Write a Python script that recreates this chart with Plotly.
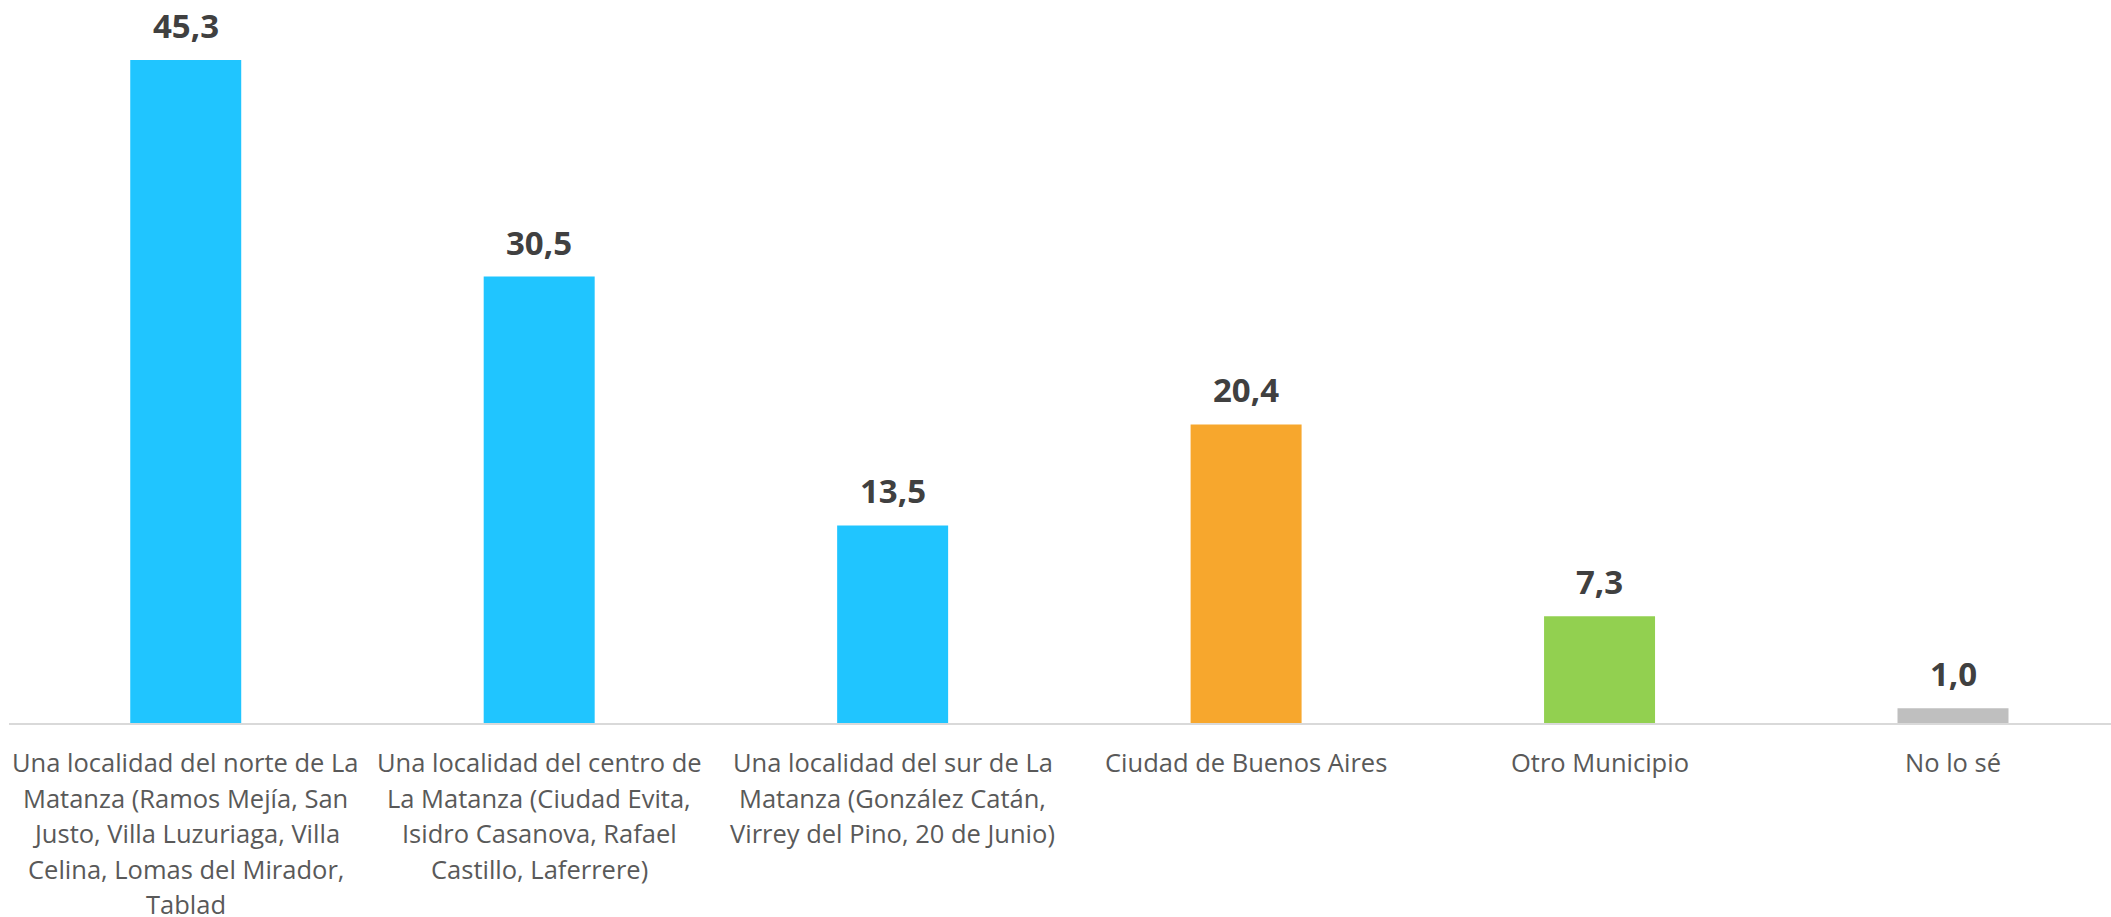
import plotly.graph_objects as go

categories = [
    "Una localidad del norte de La Matanza (Ramos Mejía, San Justo, Villa Luzuriaga, Villa Celina, Lomas del Mirador, Tablad",
    "Una localidad del centro de La Matanza (Ciudad Evita, Isidro Casanova, Rafael Castillo, Laferrere)",
    "Una localidad del sur de La Matanza (González Catán, Virrey del Pino, 20 de Junio)",
    "Ciudad de Buenos Aires",
    "Otro Municipio",
    "No lo sé",
]
# wrapped label lines, as in the original chart
label_lines = [
    ["Una localidad del norte de La", "Matanza (Ramos Mejía, San", "Justo, Villa Luzuriaga, Villa",
     "Celina, Lomas del Mirador,", "Tablad"],
    ["Una localidad del centro de", "La Matanza (Ciudad Evita,", "Isidro Casanova, Rafael",
     "Castillo, Laferrere)"],
    ["Una localidad del sur de La", "Matanza (González Catán,", "Virrey del Pino, 20 de Junio)"],
    ["Ciudad de Buenos Aires"],
    ["Otro Municipio"],
    ["No lo sé"],
]
values = [45.3, 30.5, 13.5, 20.4, 7.3, 1.0]
colors = ["#20C5FF", "#20C5FF", "#20C5FF", "#F7A72D", "#92D050", "#BFBFBF"]

x_idx = list(range(len(categories)))

fig = go.Figure()
fig.add_trace(go.Bar(
    x=x_idx,
    y=values,
    marker=dict(color=colors, line=dict(width=0)),
    hovertext=categories,
    showlegend=False,
))

# value labels
for i, v in zip(x_idx, values):
    fig.add_annotation(
        x=i, y=v, xref="x", yref="y",
        text="<b>" + f"{v:.1f}".replace(".", ",") + "</b>",
        showarrow=False,
        yanchor="bottom",
        yshift=10,
        font=dict(family="Open Sans", size=33, color="#404040"),
    )

# category labels (one annotation per wrapped line for exact line spacing)
first_offset = 39
line_step = 35.6
for i, lines in zip(x_idx, label_lines):
    for k, line in enumerate(lines):
        fig.add_annotation(
            x=i, y=0, xref="x", yref="paper",
            text=line,
            showarrow=False,
            yanchor="middle",
            yshift=-(first_offset + k * line_step),
            borderpad=0,
            font=dict(family="Open Sans", size=25.5, color="#595959"),
        )

fig.update_layout(
    width=2111, height=917,
    margin=dict(l=9, r=0, t=0, b=194),
    paper_bgcolor="white",
    plot_bgcolor="white",
    bargap=0.686,
    font=dict(family="Open Sans"),
    xaxis=dict(
        range=[-0.5, 5.447],
        showticklabels=False,
        automargin=False,
        showline=True,
        linecolor="#D9D9D9",
        linewidth=2,
        showgrid=False,
        zeroline=False,
        ticks="",
    ),
    yaxis=dict(
        range=[0, 49.4],
        visible=False,
        automargin=False,
        showgrid=False,
        zeroline=False,
    ),
)

fig.write_html(
    "out.html",
    config={"displayModeBar": False},
    post_script="document.body.style.margin='0px';document.body.style.overflow='hidden';",
)
